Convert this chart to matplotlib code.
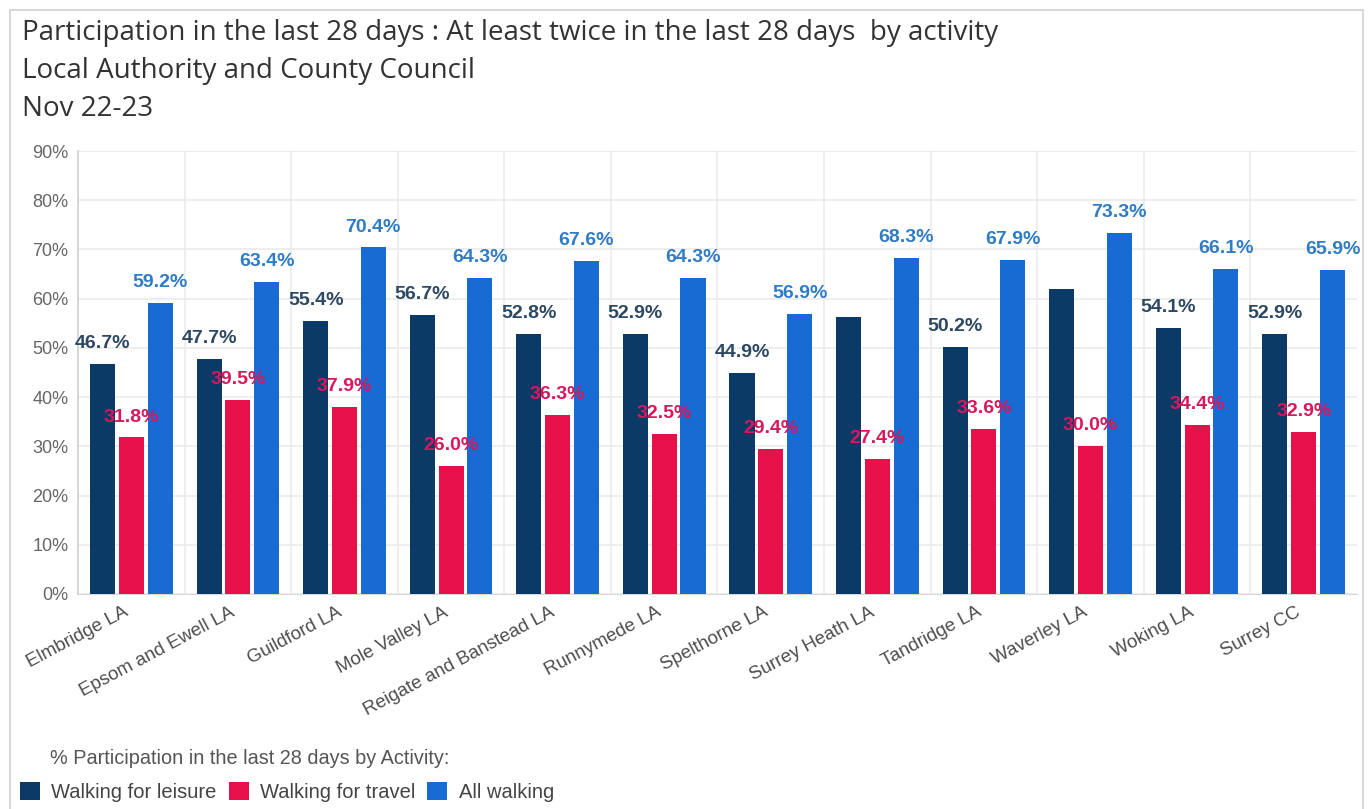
import matplotlib
matplotlib.use("Agg")
import matplotlib.pyplot as plt
import numpy as np
from matplotlib.patches import Patch, Rectangle
from matplotlib.ticker import MultipleLocator, FuncFormatter, FixedLocator

areas = ["Elmbridge LA", "Epsom and Ewell LA", "Guildford LA", "Mole Valley LA",
         "Reigate and Banstead LA", "Runnymede LA", "Spelthorne LA", "Surrey Heath LA",
         "Tandridge LA", "Waverley LA", "Woking LA", "Surrey CC"]
leisure = [46.7, 47.7, 55.4, 56.7, 52.8, 52.9, 44.9, 56.2, 50.2, 61.9, 54.1, 52.9]
travel = [31.8, 39.5, 37.9, 26.0, 36.3, 32.5, 29.4, 27.4, 33.6, 30.0, 34.4, 32.9]
all_walking = [59.2, 63.4, 70.4, 64.3, 67.6, 64.3, 56.9, 68.3, 67.9, 73.3, 66.1, 65.9]
# leisure values printed above their bars (two are left unlabelled)
leisure_labelled = [True, True, True, True, True, True, True, False, True, False, True, True]

series_names = ["Walking for leisure", "Walking for travel", "All walking"]
bar_colors = ["#0b3a66", "#e8104b", "#176bd2"]
label_colors = ["#2d4863", "#d8175c", "#2f7cc6"]

title_lines = ["Participation in the last 28 days : At least twice in the last 28 days  by activity",
               "Local Authority and County Council",
               "Nov 22-23"]
legend_heading = "% Participation in the last 28 days by Activity:"

W, H = 1370, 809
fig = plt.figure(figsize=(W / 100, H / 100), dpi=100)
fig.patch.set_facecolor("white")

# outer card border
fig.patches.append(Rectangle((10 / W, -0.05), (1363 - 10) / W, 1 - 10 / H + 0.05,
                             transform=fig.transFigure, fill=False,
                             edgecolor="#d4d4d4", linewidth=1.3, zorder=0))

title_font = ["Open Sans", "DejaVu Sans"]
for i, line in enumerate(title_lines):
    fig.text(22 / W, 1 - (33 + 38 * i) / H, line, ha="left", va="center",
             fontsize=20, color="#333333", family=title_font)

ax = fig.add_axes([78 / W, 1 - 594 / H, (1357 - 78) / W, (594 - 151) / H])
x = np.arange(len(areas))
bw = 0.235
off = 0.27
body_font = ["Liberation Sans", "DejaVu Sans"]

series = [leisure, travel, all_walking]
for k, vals in enumerate(series):
    pos = x + (k - 1) * off
    ax.bar(pos, vals, width=bw, color=bar_colors[k], zorder=3, label=series_names[k])
    for j, v in enumerate(vals):
        if k == 0 and not leisure_labelled[j]:
            continue
        ax.annotate(f"{v:.1f}%", (pos[j], v), xytext=(0, 11.5), textcoords="offset points",
                    ha="center", va="baseline", fontsize=14, fontweight="bold",
                    color=label_colors[k], family=body_font, zorder=4)

ax.set_xlim(-0.5, len(areas) - 0.5)
ax.set_ylim(0, 90)
ax.yaxis.set_major_locator(MultipleLocator(10))
ax.yaxis.set_major_formatter(FuncFormatter(lambda v, p: f"{v:.0f}%"))
ax.set_xticks(x)
ax.set_xticklabels(areas, rotation=28, ha="right", va="top", fontsize=13.5,
                   color="#4d4d4d", family=body_font)
ax.xaxis.set_minor_locator(FixedLocator(np.arange(0.5, len(areas) - 0.5, 1)))
ax.tick_params(axis="x", which="both", length=0, pad=7)
ax.tick_params(axis="y", length=0, pad=7, labelsize=13, labelcolor="#666666")
for t in ax.get_yticklabels():
    t.set_family(body_font)

ax.grid(axis="y", which="major", color="#ebebeb", linewidth=1.2, zorder=0)
ax.grid(axis="x", which="minor", color="#ebebeb", linewidth=1.2, zorder=0)
ax.set_axisbelow(True)
for s in ["top", "right"]:
    ax.spines[s].set_visible(False)
ax.spines["left"].set_color("#cfcfcf")
ax.spines["bottom"].set_color("#d9d9d9")
ax.spines["left"].set_linewidth(1.2)

fig.text(50 / W, 1 - 758 / H, legend_heading, ha="left", va="center",
         fontsize=14.3, color="#555555", family=body_font)
handles = [Patch(facecolor=c, edgecolor="none") for c in bar_colors]
fig.legend(handles, series_names, loc="center left", bbox_to_anchor=(20 / W, 1 - 792 / H),
           ncol=3, frameon=False, handlelength=1.0, handleheight=1.0,
           handletextpad=0.55, columnspacing=0.6, borderpad=0, borderaxespad=0,
           prop={"family": body_font, "size": 14.5}, labelcolor="#444444")

fig.savefig("out.png", dpi=100, facecolor="white")
